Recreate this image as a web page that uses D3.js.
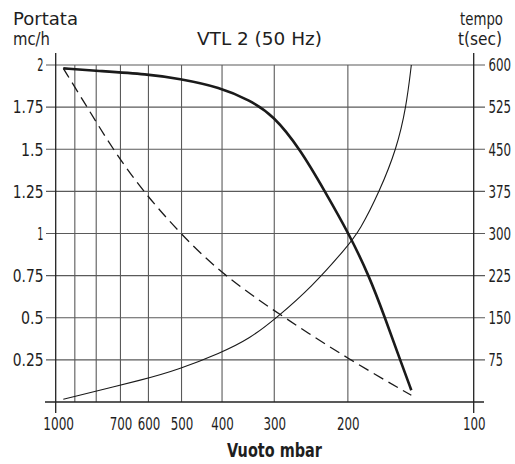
<!DOCTYPE html>
<html><head><meta charset="utf-8">
<script src="https://cdn.jsdelivr.net/npm/d3@7"></script>
<style>
html,body{margin:0;padding:0;background:#fff;}
svg text{font-family:"DejaVu Sans Condensed","Liberation Sans Narrow",sans-serif;fill:#1e1e1e;}
</style></head>
<body><svg id="c" width="515" height="464"></svg>
<script>
// ---- data ----
const vuotoTicks = [1000, 700, 600, 500, 400, 300, 200, 100];
const vuotoGrid = [900, 800, 700, 600, 500, 400, 300, 200];
const portataTicks = [0.25, 0.5, 0.75, 1, 1.25, 1.5, 1.75, 2];
const portataLabels = ["0.25", "0.5", "0.75", "1", "1.25", "1.5", "1.75", "2"];
const tempoTicks = [75, 150, 225, 300, 375, 450, 525, 600];

// thick solid curve: portata (mc/h) vs vuoto (mbar)
const portataVuoto = [959, 800, 600, 509, 404, 343, 302, 260, 227, 199, 178, 163, 150, 141];
const portataValues = [1.98, 1.966, 1.945, 1.92, 1.868, 1.79, 1.703, 1.5, 1.25, 1.0, 0.75, 0.5, 0.25, 0.07];

// dashed curve (left axis)
const dashVuoto = [959, 841, 730, 618, 504, 397, 284, 198, 141];
const dashValues = [1.98, 1.75, 1.5, 1.25, 1.0, 0.75, 0.5, 0.25, 0.04];

// thin solid curve: tempo (sec) vs vuoto (right axis)
const tempoVuoto = [959, 600, 509, 404, 343, 296, 244, 202, 187, 168, 153, 145, 141];
const tempoValues = [5, 42, 58, 87, 113, 150, 205, 274, 306, 375, 450, 525, 600];

// ---- scales ----
const x = d3.scaleLog().domain([1000, 100]).range([55.7, 473.7]);
const yL = d3.scaleLinear().domain([0, 2]).range([402, 65]);
const yR = d3.scaleLinear().domain([0, 600]).range([402, 65]);

const svg = d3.select("#c");
const gridCol = "#5a5a5a";

// horizontal grid lines
svg.append("g").selectAll("line").data(portataTicks).join("line")
  .attr("x1", 46).attr("x2", 485)
  .attr("y1", d => yL(d)).attr("y2", d => yL(d))
  .attr("stroke", gridCol).attr("stroke-width", 1.1);
// vertical grid lines
svg.append("g").selectAll("line").data(vuotoGrid).join("line")
  .attr("x1", d => x(d)).attr("x2", d => x(d))
  .attr("y1", yL(2)).attr("y2", yL(0))
  .attr("stroke", gridCol).attr("stroke-width", 1.1);
// axes
svg.append("line").attr("x1", 45).attr("x2", 484).attr("y1", yL(0)).attr("y2", yL(0))
  .attr("stroke", "#222").attr("stroke-width", 1.3);
[1000, 100].forEach(v => {
  svg.append("line").attr("x1", x(v)).attr("x2", x(v)).attr("y1", 53).attr("y2", 413)
    .attr("stroke", "#222").attr("stroke-width", 1.3);
});

// curves
const crv = d3.curveBasis;
const lineL = (xs, ys) => d3.line().curve(crv)
  .x((d, i) => x(xs[i])).y((d, i) => yL(ys[i]))(xs);
const lineR = (xs, ys) => d3.line().curve(crv)
  .x((d, i) => x(xs[i])).y((d, i) => yR(ys[i]))(xs);

svg.append("path").attr("d", lineL(portataVuoto, portataValues))
  .attr("fill", "none").attr("stroke", "#1a1a1a").attr("stroke-width", 2.6);
svg.append("path").attr("d", lineL(dashVuoto, dashValues))
  .attr("fill", "none").attr("stroke", "#1a1a1a").attr("stroke-width", 1.3)
  .attr("stroke-dasharray", "11,6");
svg.append("path").attr("d", lineR(tempoVuoto, tempoValues))
  .attr("fill", "none").attr("stroke", "#1a1a1a").attr("stroke-width", 1.1);

// narrow technical lettering: scale each text horizontally to the wanted width
function label(g, txt, xx, yy, anchor, size, width, weight) {
  const t = g.append("text").attr("font-size", size)
    .attr("font-weight", weight || "normal").text(txt);
  const w = t.node().getComputedTextLength() || width;
  const sx = width / w;
  const left = anchor === "end" ? xx - width : anchor === "middle" ? xx - width / 2 : xx;
  t.attr("transform", `translate(${left},${yy}) scale(${sx},1)`);
  return t;
}
const fs = 17;
const gl = svg.append("g");
portataTicks.forEach((d, i) => {
  const s = portataLabels[i];
  label(gl, s, 43.5, yL(d) + 6.3, "end", fs, 8.2 * s.length - 2);
});
tempoTicks.forEach(d => {
  const s = String(d);
  label(gl, s, 488.5, yR(d) + 6.3, "start", fs, 8.2 * s.length - 2);
});
vuotoTicks.forEach(d => {
  const s = String(d);
  label(gl, s, x(d) + (d === 1000 ? 3 : 0.5), 430, "middle", fs, 8.2 * s.length - 2);
});

// titles
label(svg, "Portata", 13, 25, "start", 17, 65);
label(svg, "mc/h", 13, 45, "start", 17, 37);
label(svg, "tempo", 503, 25, "end", 17, 43);
label(svg, "t(sec)", 502, 45, "end", 17, 44);
label(svg, "VTL 2 (50 Hz)", 259.5, 45, "middle", 17, 125);
label(svg, "Vuoto mbar", 274.5, 457, "middle", 19, 95, "bold");
</script></body></html>
